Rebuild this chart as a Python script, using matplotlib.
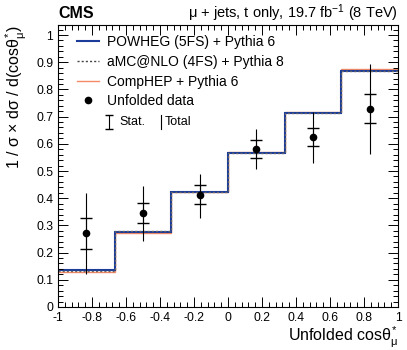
#!/usr/bin/env python3
"""Normalised differential cross section in cos(theta*) of the muon, t channel."""

import matplotlib
matplotlib.use("Agg")
import matplotlib.pyplot as plt
from matplotlib.lines import Line2D
from matplotlib.ticker import MultipleLocator
import numpy as np

plt.rcParams["font.family"] = ["Liberation Sans", "DejaVu Sans"]
plt.rcParams["mathtext.fontset"] = "custom"
plt.rcParams["mathtext.rm"] = "Liberation Sans"
plt.rcParams["mathtext.it"] = "Liberation Sans"

# Bin edges and predictions
BIN_EDGES = [-1.0, -2 / 3, -1 / 3, 0.0, 1 / 3, 2 / 3, 1.0]
POWHEG = [0.135, 0.277, 0.421, 0.566, 0.713, 0.866]
AMCNLO = [0.133, 0.279, 0.423, 0.568, 0.715, 0.868]
COMPHEP = [0.127, 0.273, 0.421, 0.569, 0.717, 0.876]

# Unfolded data: central value, stat. band, total band
DATA_X = [-0.833, -0.5, -0.167, 0.167, 0.5, 0.833]
DATA_Y = [0.271, 0.345, 0.413, 0.581, 0.626, 0.729]
STAT_UP = [0.328, 0.381, 0.447, 0.614, 0.659, 0.784]
STAT_DN = [0.213, 0.310, 0.379, 0.547, 0.593, 0.675]
TOT_UP = [0.420, 0.446, 0.490, 0.653, 0.718, 0.893]
TOT_DN = [0.121, 0.244, 0.328, 0.507, 0.530, 0.561]

C_BLUE = "#1b3c99"
C_ORANGE = "#f58a66"


def tick_fmt(v, pos):
    v = round(v, 2)
    return "0" if v == 0 else f"{v:g}"


fig = plt.figure(figsize=(4.07, 3.5), dpi=100)
ax = fig.add_axes([0.1425, 0.123, 0.8355, 0.8056])

ax.stairs(COMPHEP, BIN_EDGES, color=C_ORANGE, lw=1.0, baseline=None)
ax.stairs(POWHEG, BIN_EDGES, color=C_BLUE, lw=1.5, baseline=None)
ax.stairs(AMCNLO, BIN_EDGES, color="#666666", lw=1.0, ls=(0, (1.5, 1.5)), baseline=None)

y = np.array(DATA_Y)
tot_err = [y - np.array(TOT_DN), np.array(TOT_UP) - y]
stat_err = [y - np.array(STAT_DN), np.array(STAT_UP) - y]
ax.errorbar(DATA_X, y, yerr=tot_err, fmt="none", ecolor="black", elinewidth=0.8, capsize=0)
ax.errorbar(DATA_X, y, yerr=stat_err, fmt="none", ecolor="black", elinewidth=0.8,
            capsize=4.5, capthick=1.0)
ax.plot(DATA_X, y, "o", color="black", ms=4.5)

ax.set_xlim(-1, 1)
ax.set_ylim(0, 1.037)
ax.xaxis.set_major_locator(MultipleLocator(0.2))
ax.xaxis.set_minor_locator(MultipleLocator(0.04))
ax.yaxis.set_major_locator(MultipleLocator(0.1))
ax.yaxis.set_minor_locator(MultipleLocator(0.02))
ax.tick_params(which="both", direction="in", top=True, right=True, labelsize=8.7, width=0.7)
ax.tick_params(which="major", length=7)
ax.tick_params(which="minor", length=3.5)
ax.xaxis.set_major_formatter(plt.FuncFormatter(tick_fmt))
ax.yaxis.set_major_formatter(plt.FuncFormatter(tick_fmt))
for s in ax.spines.values():
    s.set_linewidth(0.8)

ax.set_xlabel(r"Unfolded cos$\theta^{*}_{\mu}$", fontsize=11.5, loc="right", labelpad=1)
ax.set_ylabel(r"1 / $\sigma$ $\times$ d$\sigma$ / d(cos$\theta^{*}_{\mu}$)", fontsize=11.5,
              loc="top", labelpad=5)

handles = [
    Line2D([], [], color=C_BLUE, lw=1.5),
    Line2D([], [], color="#444444", lw=1.0, ls=(0, (1.5, 1.5))),
    Line2D([], [], color=C_ORANGE, lw=1.0),
    Line2D([], [], color="black", marker="o", ms=4.5, ls="none"),
]
labels = ["POWHEG (5FS) + Pythia 6", "aMC@NLO (4FS) + Pythia 8",
          "CompHEP + Pythia 6", "Unfolded data"]
ax.legend(handles, labels, loc="upper left", bbox_to_anchor=(0.055, 0.965), frameon=False,
          fontsize=10, handlelength=1.6, handletextpad=0.55, labelspacing=0.42,
          borderpad=0, borderaxespad=0)

# Stat / Total key row
ax.errorbar([0.15], [0.655], yerr=[[0.025], [0.025]], fmt="none", ecolor="black",
            elinewidth=0.8, capsize=3, capthick=1.0, transform=ax.transAxes)
ax.text(0.18, 0.655, "Stat.", transform=ax.transAxes, fontsize=9, va="center")
ax.plot([0.304, 0.304], [0.63, 0.68], color="black", lw=0.8, transform=ax.transAxes)
ax.text(0.315, 0.655, "Total", transform=ax.transAxes, fontsize=9, va="center")

fig.text(0.1425, 0.948, "CMS", fontsize=11.5, fontweight="bold", va="baseline")
fig.text(0.978, 0.948, r"$\mu$ + jets, t only, 19.7 fb$^{-1}$ (8 TeV)", fontsize=10.5,
         ha="right", va="baseline")

fig.savefig("out.png", dpi=100)
